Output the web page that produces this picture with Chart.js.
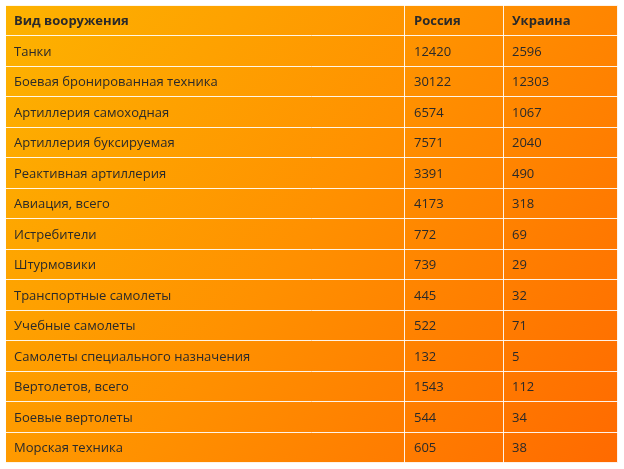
<!DOCTYPE html>
<html><head><meta charset="utf-8">
<script src="https://cdn.jsdelivr.net/npm/chart.js@4/dist/chart.umd.min.js"></script>
<style>html,body{margin:0;padding:0;background:#fff}#c{display:block}</style>
</head><body>
<canvas id="c" width="624" height="469"></canvas>
<script>
const headers = ["Вид вооружения", "Россия", "Украина"];
const categories = ["Танки","Боевая бронированная техника","Артиллерия самоходная","Артиллерия буксируемая","Реактивная артиллерия","Авиация, всего","Истребители","Штурмовики","Транспортные самолеты","Учебные самолеты","Самолеты специального назначения","Вертолетов, всего","Боевые вертолеты","Морская техника"];
const russia = [12420,30122,6574,7571,3391,4173,772,739,445,522,132,1543,544,605];
const ukraine = [2596,12303,1067,2040,490,318,69,29,32,71,5,112,34,38];
const columnEdges = [0, 65.25, 81.24, 100];

const rows = ["__header__", ...categories];
const bg = {id:'bg', beforeDraw(chart){
  const ctx=chart.ctx, w=chart.width, h=chart.height;
  ctx.save(); ctx.fillStyle='#fff'; ctx.fillRect(0,0,w,h);
  const a=chart.chartArea;
  const g=ctx.createLinearGradient(a.left,a.top,a.right,a.bottom);
  g.addColorStop(0,'#FDB300'); g.addColorStop(0.5,'#FF9000'); g.addColorStop(1,'#FF6A00');
  ctx.fillStyle=g; ctx.fillRect(a.left,a.top,a.right-a.left,a.bottom-a.top); ctx.restore();
}};
const txt = {id:'txt', afterDraw(chart){
  const ctx=chart.ctx, x=chart.scales.x, y=chart.scales.y, a=chart.chartArea;
  ctx.save();
  ctx.strokeStyle='rgba(255,255,255,0.9)'; ctx.lineWidth=1;
  ctx.strokeRect(a.left+0.5,a.top+0.5,a.right-a.left-1,a.bottom-a.top-1);
  ctx.fillStyle='#2a2a2a'; ctx.textBaseline='middle'; ctx.textAlign='left';
  rows.forEach((r,i)=>{
    const py=y.getPixelForValue(i);
    const cells = i===0 ? headers : [categories[i-1], String(russia[i-1]), String(ukraine[i-1])];
    ctx.font=(i===0?'bold ':'')+'13px "Open Sans"';
    cells.forEach((c,j)=>{ ctx.fillText(c, x.getPixelForValue(columnEdges[j])+9, py+1); });
  });
  ctx.restore();
}};
new Chart(document.getElementById('c'), {
  type:'bar',
  data:{labels:rows, datasets:[{data:rows.map(()=>null)}]},
  options:{
    responsive:false, animation:false, indexAxis:'y',
    layout:{padding:{left:5,right:6,top:5,bottom:6}},
    plugins:{legend:{display:false},tooltip:{enabled:false}},
    scales:{
      x:{type:'linear',min:0,max:100,
        afterBuildTicks(s){ s.ticks=columnEdges.map(v=>({value:v})); },
        ticks:{display:false}, border:{display:false},
        grid:{color:'rgba(255,255,255,0.9)',drawTicks:false,lineWidth:1}},
      y:{type:'category',offset:true,ticks:{display:false},border:{display:false},
        grid:{offset:true,color:'rgba(255,255,255,0.9)',drawTicks:false,lineWidth:1}}
    }
  },
  plugins:[bg,txt]
});
</script>
</body></html>
